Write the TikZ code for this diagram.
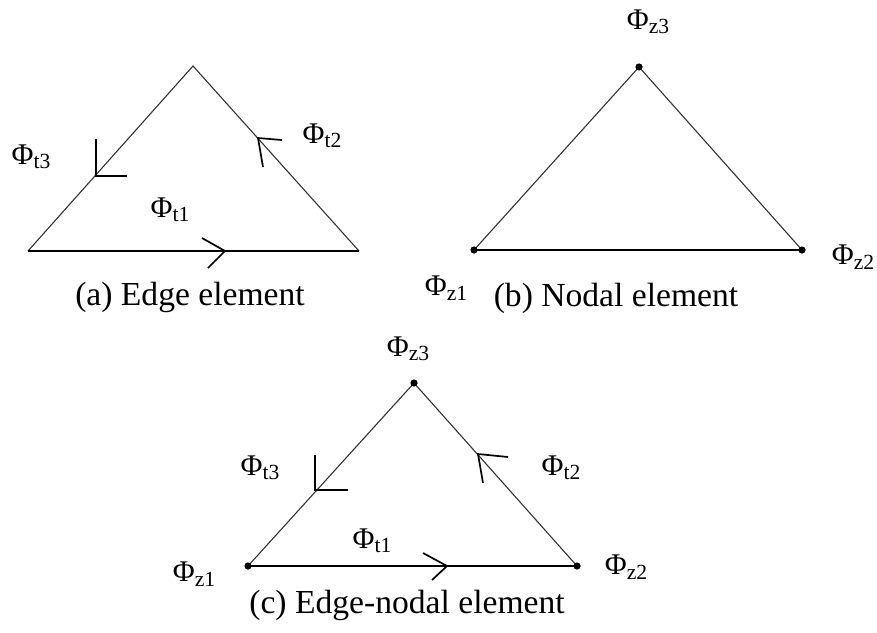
\documentclass[tikz,border=0pt]{standalone}
\usepackage{fontspec}
\setmainfont{Liberation Serif}
\newcommand{\phisub}[2]{{\fontsize{15}{18}\selectfont #1\raisebox{-2.2pt}{\fontsize{10.8}{12}\selectfont #2}}}
\begin{document}
\begin{tikzpicture}[x=0.5pt,y=-0.5pt,
  edge/.style={line width=0.55pt,black!80},
  base/.style={line width=0.9pt,black},
  chev/.style={line width=0.85pt,black},
  lbl/.style={inner sep=0pt,anchor=center},
  captxt/.style={inner sep=0pt,anchor=base,font=\fontsize{16.8}{20}\selectfont},
  dot/.style={circle,fill=black,inner sep=0pt,minimum size=3.6pt}]
\useasboundingbox (0,0) rectangle (877,632);
% ---------- (a) Edge element
\coordinate (a1) at (28,251);
\coordinate (a2) at (359,251);
\coordinate (a3) at (193,66);
\draw[edge] (a1) -- (a3) -- (a2);
\draw[base] (a1) -- (a2);
\coordinate (aL) at (96,176);
\coordinate (aR) at (258,138);
\coordinate (aB) at (225,251);
\draw[chev] (96,139) -- (aL) -- (127,176);
\draw[chev] (282,140) -- (aR) -- (263,167);
\draw[chev] (202,238) -- (aB) -- (208,268);
\node[lbl] (at3) at (31,157) {\phisub{Φ}{t3}};
\node[lbl] (at2) at (322,136) {\phisub{Φ}{t2}};
\node[lbl] (at1) at (170,210) {\phisub{Φ}{t1}};
\node[captxt] (capa) at (190,305) {(a) Edge element};
% ---------- (b) Nodal element
\coordinate (b1) at (474,250);
\coordinate (b2) at (802,250);
\coordinate (b3) at (639,67);
\draw[edge] (b1) -- (b3) -- (b2);
\draw[base] (b1) -- (b2);
\node[dot] (bd1) at (b1) {};
\node[dot] (bd2) at (b2) {};
\node[dot] (bd3) at (b3) {};
\node[lbl] (bz3) at (648,22) {\phisub{Φ}{z3}};
\node[lbl] (bz2) at (853,257) {\phisub{Φ}{z2}};
\node[lbl] (bz1) at (446,288) {\phisub{Φ}{z1}};
\node[captxt] (capb) at (616,306) {(b) Nodal element};
% ---------- (c) Edge-nodal element
\coordinate (c1) at (248,566);
\coordinate (c2) at (577,566);
\coordinate (c3) at (414,383);
\draw[edge] (c1) -- (c3) -- (c2);
\draw[base] (c1) -- (c2);
\node[dot] (cd1) at (c1) {};
\node[dot] (cd2) at (c2) {};
\node[dot] (cd3) at (c3) {};
\coordinate (cL) at (315,490);
\coordinate (cR) at (478,454);
\coordinate (cB) at (447,566);
\draw[chev] (315,455) -- (cL) -- (348,490);
\draw[chev] (508,457) -- (cR) -- (483,483);
\draw[chev] (423,553) -- (cB) -- (432,580);
\node[lbl] (cz3) at (408,349) {\phisub{Φ}{z3}};
\node[lbl] (ct3) at (260,468) {\phisub{Φ}{t3}};
\node[lbl] (ct2) at (561,468) {\phisub{Φ}{t2}};
\node[lbl] (ct1) at (372,541) {\phisub{Φ}{t1}};
\node[lbl] (cz1) at (194,574) {\phisub{Φ}{z1}};
\node[lbl] (cz2) at (626,567) {\phisub{Φ}{z2}};
\node[captxt] (capc) at (407,613) {(c) Edge-nodal element};
\end{tikzpicture}
\end{document}
